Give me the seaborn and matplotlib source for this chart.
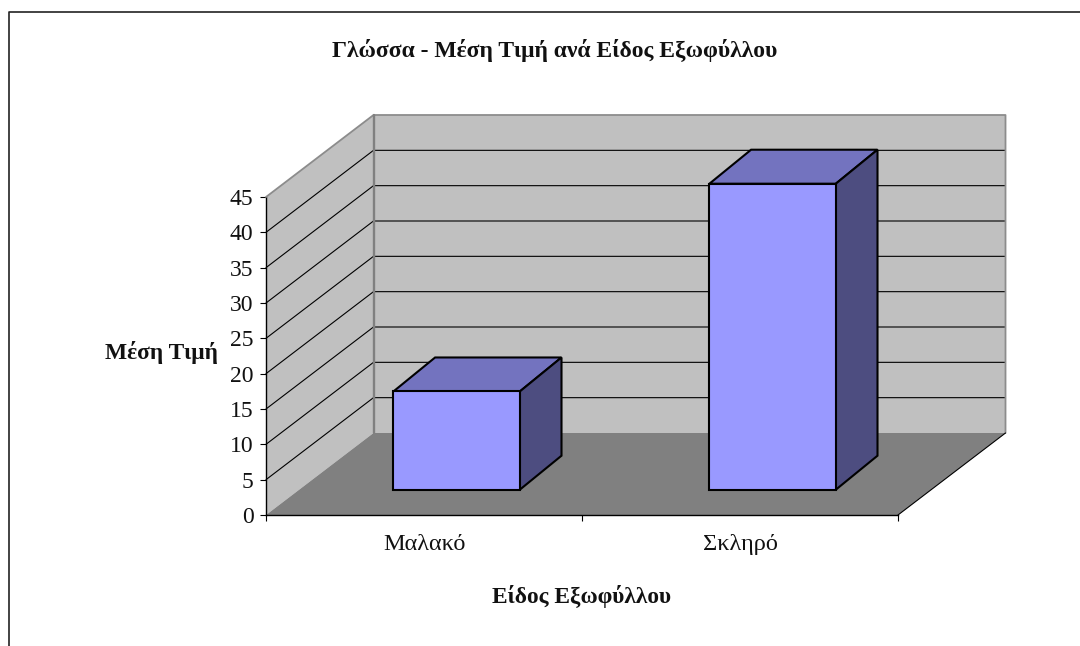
import matplotlib
matplotlib.use("Agg")
import matplotlib.pyplot as plt
import seaborn as sns
from matplotlib.lines import Line2D
from matplotlib.patches import Polygon
from matplotlib.transforms import Affine2D, IdentityTransform

# data
covers = ["Μαλακό", "Σκληρό"]
prices = [13.9, 43.3]
y_ticks = [0, 5, 10, 15, 20, 25, 30, 35, 40, 45]

title = "Γλώσσα - Μέση Τιμή ανά Είδος Εξωφύλλου"
x_title = "Είδος Εξωφύλλου"
y_title = "Μέση Τιμή"

W, H = 1080, 646

# pixel offsets of the fake 3d box
WALL_DX, WALL_DY = 107.5, 82
BAR_DX, BAR_DY = 32.6, 25.3
BAR_DEPTH_X, BAR_DEPTH_Y = 41.7, 34
BAR_EDGE = 1.5

sns.set_theme(style="white")
plt.rcParams['font.family'] = ['Liberation Serif', 'DejaVu Serif']

fig = plt.figure(figsize=(W / 100, H / 100), dpi=100, facecolor="white")
ax = fig.add_axes([266 / W, 1 - 515 / H, 632 / W, 318 / H])
ax.patch.set_visible(False)

sns.barplot(x=covers, y=prices, color="#9999FF", saturation=1, width=0.4,
            edgecolor="black", linewidth=BAR_EDGE, ax=ax, zorder=6)
ax.set_xlim(-0.5, 1.5)
ax.set_ylim(0, 45)
ax.set_xlabel("")
ax.set_ylabel("")
sns.despine(ax=ax)
for side in ["left", "bottom"]:
    ax.spines[side].set_color("black")
    ax.spines[side].set_linewidth(1.0)

# ticks between the categories, labels under them
ax.set_xticks([-0.5, 0.5, 1.5])
ax.set_xticklabels([])
ax.set_xticks([0, 1], labels=covers, minor=True)
ax.tick_params(axis="x", which="major", length=4.5, width=0.8, color="black", bottom=True)
ax.tick_params(axis="x", which="minor", length=0, pad=14, labelsize=17.5, labelcolor="#111111")
ax.set_yticks(y_ticks)
ax.tick_params(axis="y", length=4.5, width=0.8, color="black", left=True, pad=4.5,
               labelsize=17, labelcolor="#111111")


def pt(x, y, dx=0, dy=0):
    px, py = ax.transData.transform((x, y))
    return (px + dx, py + dy)


def face(points, fc, ec="none", lw=0.0, z=1):
    ax.add_patch(Polygon(points, closed=True, facecolor=fc, edgecolor=ec, linewidth=lw,
                         transform=IdentityTransform(), clip_on=False, zorder=z))


bars = list(ax.patches)

# walls and floor
face([pt(-0.5, 0), pt(-0.5, 45), pt(-0.5, 45, WALL_DX, WALL_DY), pt(-0.5, 0, WALL_DX, WALL_DY)], "#C0C0C0")
face([pt(-0.5, 0, WALL_DX, WALL_DY), pt(-0.5, 45, WALL_DX, WALL_DY),
      pt(1.5, 45, WALL_DX, WALL_DY), pt(1.5, 0, WALL_DX, WALL_DY)], "#C0C0C0")
face([pt(-0.5, 0), pt(1.5, 0), pt(1.5, 0, WALL_DX, WALL_DY), pt(-0.5, 0, WALL_DX, WALL_DY)], "#808080")

# gridlines on both walls
for tick in y_ticks[1:-1]:
    a, b, c = pt(-0.5, tick), pt(-0.5, tick, WALL_DX, WALL_DY), pt(1.5, tick, WALL_DX, WALL_DY)
    ax.add_line(Line2D([a[0], b[0], c[0]], [a[1], b[1], c[1]], color="black", lw=0.8,
                       transform=IdentityTransform(), clip_on=False, zorder=2))

# grey wall outline
a = pt(-0.5, 45)
b = pt(-0.5, 45, WALL_DX, WALL_DY)
c = pt(1.5, 45, WALL_DX, WALL_DY)
d = pt(1.5, 0, WALL_DX, WALL_DY)
e = pt(-0.5, 0, WALL_DX, WALL_DY)
ax.add_line(Line2D([a[0], b[0], c[0], d[0]], [a[1], b[1], c[1], d[1]], color="#8C8C8C", lw=1.3,
                   transform=IdentityTransform(), clip_on=False, zorder=3))
ax.add_line(Line2D([b[0], e[0]], [b[1], e[1]], color="#808080", lw=1.7,
                   transform=IdentityTransform(), clip_on=False, zorder=3))
# right edge of the floor
f = pt(1.5, 0)
ax.add_line(Line2D([f[0], d[0]], [f[1], d[1]], color="black", lw=0.8,
                   transform=IdentityTransform(), clip_on=False, zorder=3))

# shift the bars to the middle of the floor and give them a top and a side
shift = Affine2D().translate(BAR_DX, BAR_DY)
for bar in bars:
    x0, x1 = bar.get_x(), bar.get_x() + bar.get_width()
    top = bar.get_height()
    bar.set_transform(ax.transData + shift)
    bar.set_clip_on(False)
    bar.set_zorder(6)
    fl, tl = pt(x0, top, BAR_DX, BAR_DY), pt(x1, top, BAR_DX, BAR_DY)
    br = pt(x1, 0, BAR_DX, BAR_DY)
    face([fl, tl, (tl[0] + BAR_DEPTH_X, tl[1] + BAR_DEPTH_Y), (fl[0] + BAR_DEPTH_X, fl[1] + BAR_DEPTH_Y)],
         "#7373BF", "black", BAR_EDGE, 5)
    face([tl, br, (br[0] + BAR_DEPTH_X, br[1] + BAR_DEPTH_Y), (tl[0] + BAR_DEPTH_X, tl[1] + BAR_DEPTH_Y)],
         "#4D4D80", "black", BAR_EDGE, 5)

# titles
fig.text(554.5 / W, 1 - 51 / H, title, ha="center", va="center", fontsize=17, fontweight="bold", color="#111111")
fig.text(582 / W, 1 - 596 / H, x_title, ha="center", va="center", fontsize=16.8, fontweight="bold", color="#111111")
fig.text(161.5 / W, 1 - 352 / H, y_title, ha="center", va="center", fontsize=16.8, fontweight="bold", color="#111111")

# frame of the chart area, only top and left are inside the crop
fig.add_artist(Line2D([8.5 / W, 8.5 / W, 1], [0, 1 - 11.5 / H, 1 - 11.5 / H], color="#222222", lw=1.2))

fig.savefig("out.png", dpi=100)
